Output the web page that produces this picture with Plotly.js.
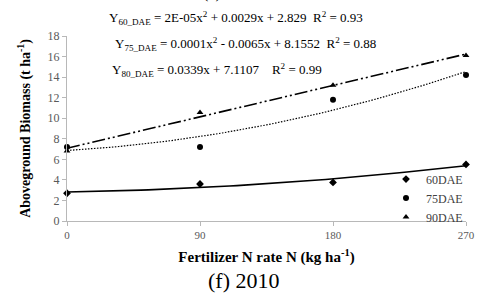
<!DOCTYPE html>
<html><head><meta charset="utf-8">
<script src="https://cdn.plot.ly/plotly-3.0.1.min.js"></script>
<style>html,body{margin:0;padding:0;background:#fff}</style>
</head><body>
<div id="chart" style="width:478px;height:294px"></div>
<script>
const nRates = [0, 90, 180, 270];
const tickLabels = ['0', '90', '180', '270'];
const dae60 = [2.7, 3.6, 3.75, 5.5];
const dae75 = [7.2, 7.2, 11.8, 14.2];
const dae90 = [6.8, 10.55, 13.2, 16.1];
const seriesNames = ['60DAE', '75DAE', '90DAE'];
const equations = [
  'Y<sub>60_DAE</sub> = 2E-05x<sup>2</sup> + 0.0029x + 2.829&nbsp;&nbsp;R<sup>2</sup> = 0.93',
  'Y<sub>75_DAE</sub> = 0.0001x<sup>2</sup> - 0.0065x + 8.1552&nbsp;&nbsp;R<sup>2</sup> = 0.88',
  'Y<sub>80_DAE</sub> = 0.0339x + 7.1107&nbsp;&nbsp;&nbsp;&nbsp;R<sup>2</sup> = 0.99'
];

// least-squares polynomial fit (trendline from the data)
function polyfit(xs, ys, deg) {
  const n = deg + 1;
  const A = Array.from({length: n}, () => Array(n + 1).fill(0));
  for (let i = 0; i < xs.length; i++) {
    for (let r = 0; r < n; r++) {
      for (let c = 0; c < n; c++) A[r][c] += Math.pow(xs[i], r + c);
      A[r][n] += ys[i] * Math.pow(xs[i], r);
    }
  }
  for (let i = 0; i < n; i++) {
    let p = i;
    for (let k = i + 1; k < n; k++) if (Math.abs(A[k][i]) > Math.abs(A[p][i])) p = k;
    [A[i], A[p]] = [A[p], A[i]];
    for (let k = i + 1; k < n; k++) {
      const f = A[k][i] / A[i][i];
      for (let j = i; j <= n; j++) A[k][j] -= f * A[i][j];
    }
  }
  const co = Array(n).fill(0);
  for (let i = n - 1; i >= 0; i--) {
    let s = A[i][n];
    for (let j = i + 1; j < n; j++) s -= A[i][j] * co[j];
    co[i] = s / A[i][i];
  }
  return co;
}
function fitLine(ys, deg) {
  const co = polyfit(nRates, ys, deg);
  const xs = [], out = [];
  for (let x = 0; x <= 270; x += 5) {
    xs.push(x);
    out.push(co.reduce((s, c, i) => s + c * Math.pow(x, i), 0));
  }
  return {x: xs, y: out};
}
const f60 = fitLine(dae60, 2), f75 = fitLine(dae75, 2), f90 = fitLine(dae90, 1);

const serif = 'Liberation Serif, Times New Roman, serif';
const traces = [
  {x: f60.x, y: f60.y, mode: 'lines', line: {color: '#000', width: 1.6}, showlegend: false, hoverinfo: 'skip', cliponaxis: false},
  {x: f75.x, y: f75.y, mode: 'lines', line: {color: '#000', width: 1.2, dash: '1.5px,1.5px'}, showlegend: false, hoverinfo: 'skip', cliponaxis: false},
  {x: f90.x, y: f90.y, mode: 'lines', line: {color: '#000', width: 1.6, dash: '13px,3px,2px,3px,2px,3px'}, showlegend: false, hoverinfo: 'skip', cliponaxis: false},
  {x: nRates, y: dae60, name: seriesNames[0], mode: 'markers', marker: {symbol: 'diamond', size: 6, color: '#000'}, cliponaxis: false},
  {x: nRates, y: dae75, name: seriesNames[1], mode: 'markers', marker: {symbol: 'circle', size: 6, color: '#000'}, cliponaxis: false},
  {x: nRates, y: dae90, name: seriesNames[2], mode: 'markers', marker: {symbol: 'triangle-up', size: 6, color: '#000'}, cliponaxis: false}
];

const layout = {
  width: 478, height: 294,
  margin: {l: 67, r: 11, t: 36, b: 73},
  paper_bgcolor: '#fff', plot_bgcolor: '#fff',
  font: {family: serif, color: '#000'},
  showlegend: true,
  legend: {x: 0.7975, y: 0.124, xanchor: 'left', yanchor: 'middle', bgcolor: 'rgba(0,0,0,0)',
           font: {family: serif, size: 12, color: '#404040'}, tracegroupgap: 0, itemwidth: 30},
  xaxis: {
    range: [0, 270], tickvals: nRates, ticktext: tickLabels,
    showgrid: false, zeroline: false, showline: true, linecolor: '#b8b8b8', linewidth: 1,
    ticks: 'outside', ticklen: 4, tickcolor: '#b8b8b8',
    tickfont: {family: serif, size: 11, color: '#595959'},
    title: {text: '<b>Fertilizer N rate N (kg ha<sup>-1</sup>)</b>', font: {family: serif, size: 15, color: '#000'}, standoff: 11}
  },
  yaxis: {
    range: [0, 18], dtick: 2,
    showgrid: false, zeroline: false, showline: true, linecolor: '#b8b8b8', linewidth: 1,
    ticks: 'outside', ticklen: 4, tickcolor: '#b8b8b8',
    tickfont: {family: serif, size: 12, color: '#595959'},
    title: {text: '<b>Aboveground Biomass (t ha<sup>-1</sup>)</b>', font: {family: serif, size: 14, color: '#000'}, standoff: 13}
  },
  annotations: [
    {text: '(e)', xref: 'paper', yref: 'paper', x: 0.3625, y: 1.232, xanchor: 'center', yanchor: 'middle', showarrow: false, font: {family: serif, size: 16, color: '#000'}},
    {text: equations[0], xref: 'paper', yref: 'paper', x: 0.1, y: 1.097, xanchor: 'left', yanchor: 'middle', showarrow: false, font: {family: serif, size: 13, color: '#000'}},
    {text: equations[1], xref: 'paper', yref: 'paper', x: 0.115, y: 0.957, xanchor: 'left', yanchor: 'middle', showarrow: false, font: {family: serif, size: 13, color: '#000'}},
    {text: equations[2], xref: 'paper', yref: 'paper', x: 0.108, y: 0.816, xanchor: 'left', yanchor: 'middle', showarrow: false, font: {family: serif, size: 13, color: '#000'}},
    {text: '(f) 2010', xref: 'paper', yref: 'paper', x: 0.4425, y: -0.324, xanchor: 'center', yanchor: 'middle', showarrow: false, font: {family: serif, size: 22, color: '#000'}}
  ]
};
Plotly.newPlot('chart', traces, layout, {displayModeBar: false, staticPlot: true});
</script>
</body></html>
